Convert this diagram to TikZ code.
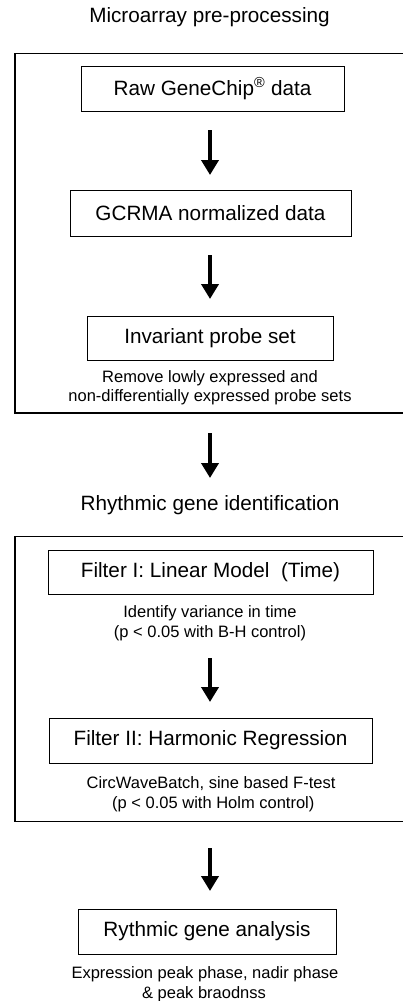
\documentclass[tikz,border=0pt]{standalone}
\usepackage{fontspec}
\setmainfont{Liberation Sans}
\usetikzlibrary{arrows.meta}
\begin{document}
\begin{tikzpicture}[x=1pt,y=-1pt,
  big/.style={font=\fontsize{20.7}{24}\selectfont},
  small/.style={font=\fontsize{16.5}{20}\selectfont, anchor=base, inner sep=0pt},
  stepbox/.style={draw, line width=1pt, inner sep=0pt, big},
  frame/.style={line width=1.4pt},
  arr/.style={line width=4pt, -{Triangle[width=17pt,length=15pt]}},
  title/.style={big, anchor=base, inner sep=0pt}]
\useasboundingbox (0,0) rectangle (403,1001);

% Section 1
\node[title] (t1) at (209.5,22.5) {Microarray pre-processing};
\coordinate (f1a) at (406,53.3);
\coordinate (f1b) at (15,53.3);
\coordinate (f1c) at (15,413);
\coordinate (f1d) at (406,413);
\draw[frame] (f1a) -- (f1b) -- (f1c) -- (f1d);

\node[stepbox, minimum width=263pt, minimum height=45pt] (raw) at (212.5,88.5) {Raw GeneChip\textsuperscript{\textregistered} data};
\node[stepbox, minimum width=281pt, minimum height=46pt] (gcrma) at (210.5,213) {GCRMA normalized data};
\node[stepbox, minimum width=246pt, minimum height=44pt] (inv) at (210,338) {Invariant probe set};
\node[small] (d1a) at (210,382) {Remove lowly expressed and};
\node[small] (d1b) at (210,401.5) {non-differentially expressed probe sets};

\coordinate (a1s) at (210,130); \coordinate (a1e) at (210,175);
\coordinate (a2s) at (210,255); \coordinate (a2e) at (210,299);
\coordinate (a3s) at (210,433); \coordinate (a3e) at (210,478);
\coordinate (a4s) at (210,658); \coordinate (a4e) at (210,702);
\coordinate (a5s) at (210,848); \coordinate (a5e) at (210,891);
\draw[arr] (a1s) -- (a1e);
\draw[arr] (a2s) -- (a2e);
\draw[arr] (a3s) -- (a3e);

% Section 2
\node[title] (t2) at (210,510) {Rhythmic gene identification};
\coordinate (f2a) at (406,536.7);
\coordinate (f2b) at (15,536.7);
\coordinate (f2c) at (15,821.5);
\coordinate (f2d) at (406,821.5);
\draw[frame] (f2a) -- (f2b) -- (f2c) -- (f2d);

\node[stepbox, minimum width=325pt, minimum height=44pt] (f1) at (210.5,572) {Filter I: Linear Model\ \ (Time)};
\node[small] (d2a) at (210,617) {Identify variance in time};
\node[small] (d2b) at (210,637) {(p < 0.05 with B-H control)};
\draw[arr] (a4s) -- (a4e);
\node[stepbox, minimum width=323pt, minimum height=45pt] (f2) at (210.5,740.5) {Filter II: Harmonic Regression};
\node[small] (d3a) at (211,788) {CircWaveBatch, sine based F-test};
\node[small] (d3b) at (211,808) {\ (p < 0.05 with Holm control)};

% Section 3
\draw[arr] (a5s) -- (a5e);
\node[stepbox, minimum width=258pt, minimum height=45pt] (ana) at (207,931.5) {Rythmic gene analysis};
\node[small] (d4a) at (205,978) {Expression peak phase, nadir phase};
\node[small] (d4b) at (204,998.5) {\& peak braodnss};
\end{tikzpicture}
\end{document}
